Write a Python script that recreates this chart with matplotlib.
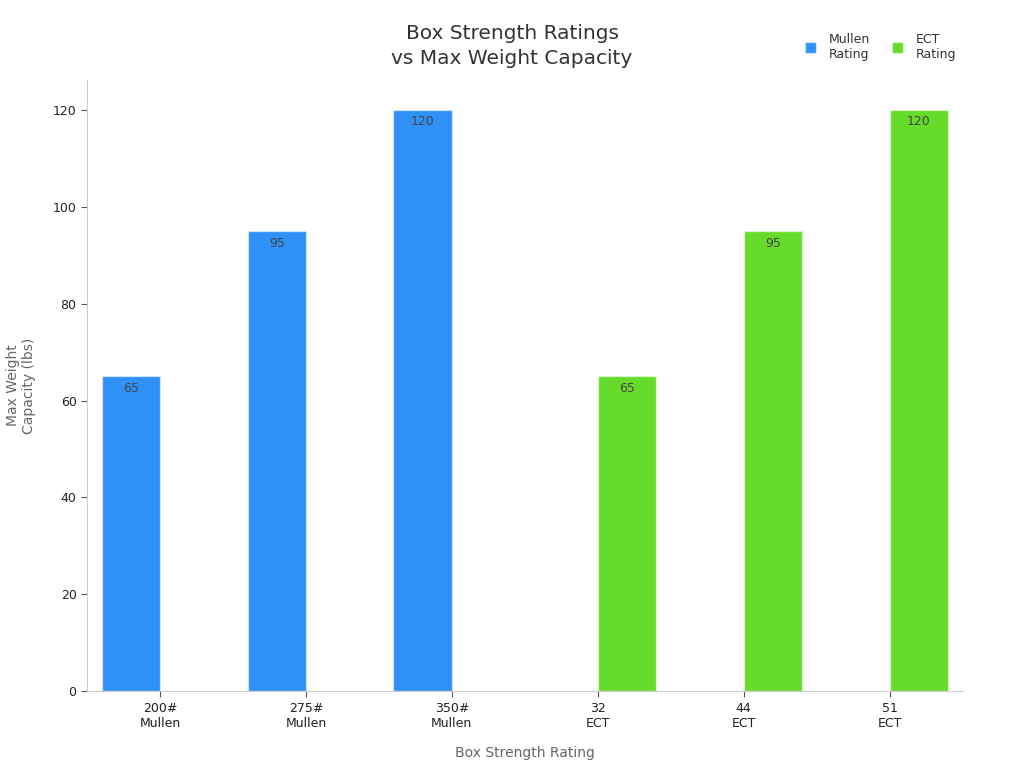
import matplotlib
matplotlib.use('Agg')
import matplotlib.pyplot as plt
import numpy as np

categories = ['200#\nMullen', '275#\nMullen', '350#\nMullen', '32\nECT', '44\nECT', '51\nECT']
mullen = [65, 95, 120, None, None, None]
ect = [None, None, None, 65, 95, 120]

BLUE = '#2F91F8'
GREEN = '#67DB29'

plt.rcParams['font.family'] = 'DejaVu Sans'

fig = plt.figure(figsize=(10.24, 7.68), dpi=100)
ax = fig.add_axes([0.085, 0.100, 0.855, 0.796])

x = np.arange(len(categories))
width = 0.4


def draw_series(values, offset, color, label):
    xs = [xi + offset for xi, v in zip(x, values) if v is not None]
    vs = [v for v in values if v is not None]
    bars = ax.bar(xs, vs, width=width, color=color, edgecolor='#ffffff80',
                  linewidth=1, label=label, align='edge')
    for b, v in zip(bars, vs):
        ax.annotate(f'{v}', (b.get_x() + b.get_width() / 2, v),
                    xytext=(0, -4), textcoords='offset points',
                    ha='center', va='top', fontsize=9, color='#444444')
    return bars


draw_series(mullen, -width, BLUE, 'Mullen\nRating')
draw_series(ect, 0.0, GREEN, 'ECT\nRating')

ax.set_xlim(-0.5, len(categories) - 0.5)
ax.set_ylim(0, 126.2)
ax.set_yticks([0, 20, 40, 60, 80, 100, 120])
ax.set_xticks(x)
ax.set_xticklabels(categories, fontsize=9, color='#222222')
ax.tick_params(axis='y', labelsize=9, labelcolor='#222222', length=4, color='#555555')
ax.tick_params(axis='x', length=4, color='#555555')

for s in ['top', 'right']:
    ax.spines[s].set_visible(False)
for s in ['left', 'bottom']:
    ax.spines[s].set_color('#cccccc')

ax.set_xlabel('Box Strength Rating', fontsize=10, color='#666666', labelpad=12)
ax.set_ylabel('Max Weight\nCapacity (lbs)', fontsize=10, color='#666666', labelpad=12)

fig.text(0.5, 0.94, 'Box Strength Ratings\nvs Max Weight Capacity', ha='center', va='center',
         fontsize=14.5, color='#333333', linespacing=1.4)

fig.legend(loc='upper right', bbox_to_anchor=(0.945, 0.972), ncol=2, frameon=False,
           fontsize=9, handlelength=0.9, handleheight=0.9, handletextpad=1.0,
           columnspacing=1.8, labelcolor='#333333')

fig.savefig('out.png', dpi=100)
